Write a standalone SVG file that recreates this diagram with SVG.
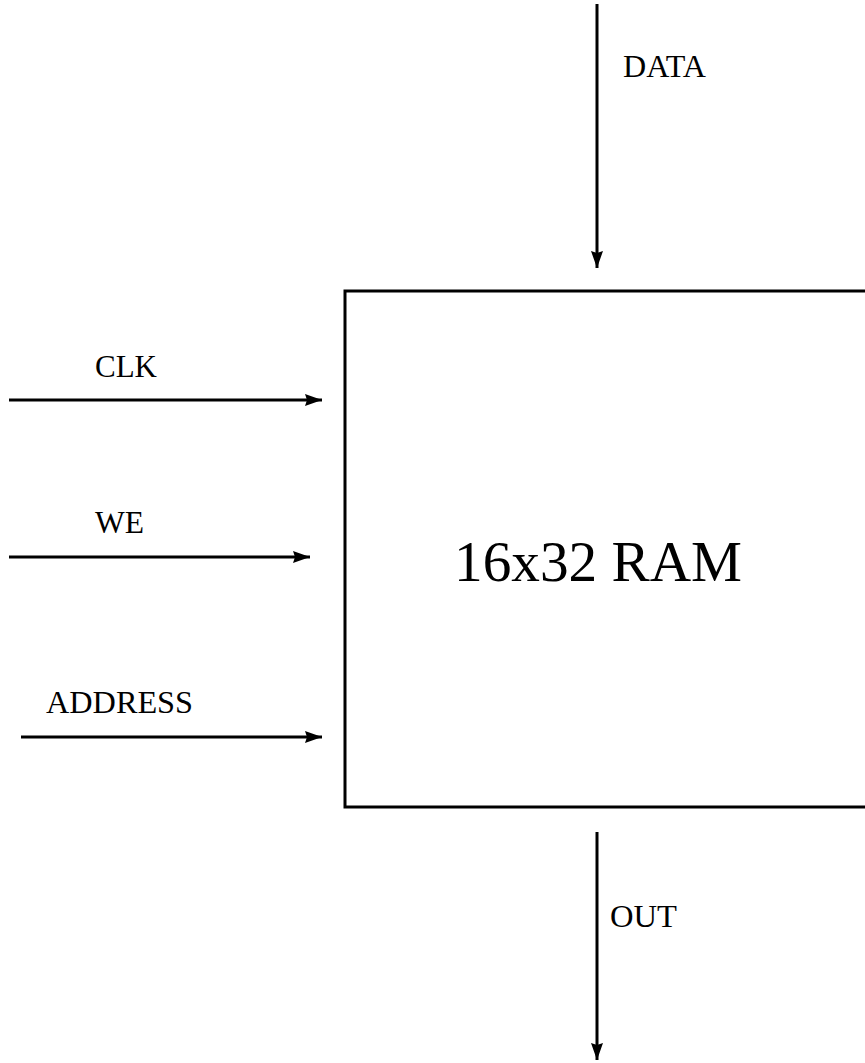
<svg xmlns="http://www.w3.org/2000/svg" width="865" height="1063" viewBox="0 0 865 1063">
<style>
.lbl{font-family:"Liberation Serif","Times New Roman",serif;font-size:31px;fill:#000}
.big{font-family:"Liberation Serif","Times New Roman",serif;font-size:57px;fill:#000}
.wire{stroke:#000;stroke-width:3;fill:none}
.box{stroke:#000;stroke-width:3;fill:#fff}
</style>
<defs>
<marker id="ah" markerWidth="17" markerHeight="12" refX="17" refY="6" orient="auto" markerUnits="userSpaceOnUse">
<path d="M0,0 L17,6 L0,12 L2,6 Z" fill="#000"/>
</marker>
</defs>
<rect width="865" height="1063" fill="#fff"/>
<g id="ram">
<rect class="box" x="345" y="291" width="540" height="516"/>
<text class="big" x="598" y="581" text-anchor="middle" textLength="288" lengthAdjust="spacingAndGlyphs">16x32 RAM</text>
</g>
<g id="connectors">
<line class="wire" x1="597" y1="4" x2="597" y2="268" marker-end="url(#ah)"/>
<line class="wire" x1="9" y1="400" x2="322" y2="400" marker-end="url(#ah)"/>
<line class="wire" x1="9" y1="557" x2="310" y2="557" marker-end="url(#ah)"/>
<line class="wire" x1="21" y1="737" x2="322" y2="737" marker-end="url(#ah)"/>
<line class="wire" x1="597" y1="832" x2="597" y2="1060" marker-end="url(#ah)"/>
</g>
<g id="labels">
<text class="lbl" x="623" y="77" textLength="83" lengthAdjust="spacingAndGlyphs">DATA</text>
<text class="lbl" x="95" y="377" textLength="62" lengthAdjust="spacingAndGlyphs">CLK</text>
<text class="lbl" x="95" y="533" textLength="49" lengthAdjust="spacingAndGlyphs">WE</text>
<text class="lbl" x="46" y="713" textLength="147" lengthAdjust="spacingAndGlyphs">ADDRESS</text>
<text class="lbl" x="610" y="927" textLength="67" lengthAdjust="spacingAndGlyphs">OUT</text>
</g>
</svg>
